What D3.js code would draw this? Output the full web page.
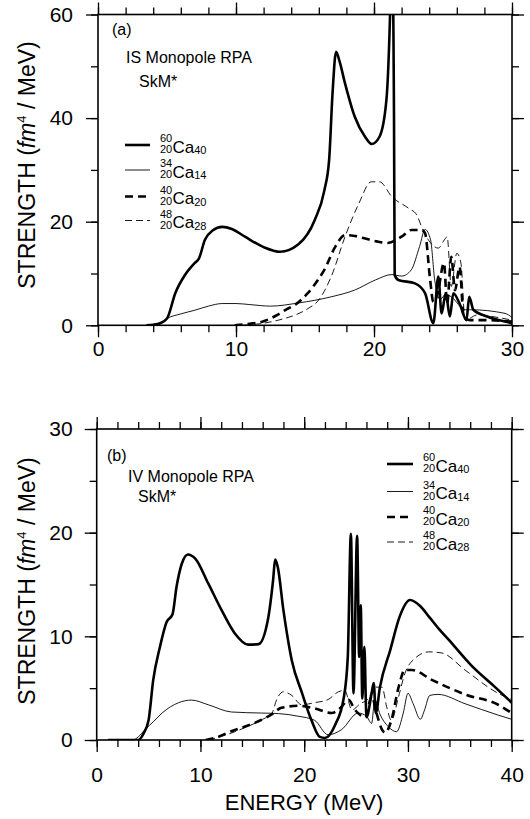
<!DOCTYPE html>
<html><head><meta charset="utf-8">
<script src="https://cdn.jsdelivr.net/npm/d3@7"></script>
<style>body{margin:0;background:#fff}svg{display:block}text{font-family:"Liberation Sans",Arial,sans-serif;fill:#000}</style>
</head><body><svg id="c" width="530" height="819"></svg>
<script>
// ---------- DATA ----------
// Panel (a): IS monopole RPA, [energy MeV, strength]
const isCa60 = [[3.5,0],[4.0,0.1],[4.5,0.4],[5.0,1.3],[5.6,6.2],[6.3,9.7],[7.0,12.0],[7.3,12.8],[7.75,16.5],[8.3,18.3],[9.0,19.0],[9.7,18.6],[10.65,17.1],[12.0,15.1],[13.2,14.2],[14.5,15.6],[15.7,20.3],[16.4,26],[16.75,32],[17.0,45],[17.25,52.8],[17.5,51],[17.9,46.7],[18.6,40.3],[19.35,36.4],[19.83,35.0],[20.4,36.4],[20.9,43.5],[21.16,59.6],[21.3,75],[21.45,40],[21.5,9.7],[21.76,8.75],[22.97,8.1],[23.7,6.2],[24.3,0.4],[24.66,9.4],[24.9,2.3],[25.2,6.2],[25.5,1.7],[25.75,6.2],[26.2,4.2],[26.7,1.0],[26.9,5.5],[27.2,3.0],[28.2,1.7],[29.85,0.5],[30,0.4]];
const isCa34 = [[4.0,0],[4.5,0.3],[5.0,1.3],[6.0,2.2],[7.0,2.9],[8.0,3.7],[9.0,4.2],[10.0,4.2],[11.0,4.0],[12.5,3.7],[14.5,4.3],[16.9,5.5],[18.6,6.8],[20.1,8.75],[21.3,9.8],[22.0,9.5],[22.7,10.7],[23.3,15.2],[23.7,18.5],[24.1,16.5],[24.4,8.7],[24.8,5.0],[25.2,6.0],[25.6,5.5],[26.6,3.0],[27.0,3.0],[29.5,2.3],[30,1.5]];
const isCa40 = [[9.9,0],[11.0,0.3],[11.9,0.7],[13.0,2.0],[13.6,3.0],[14.3,4.0],[15.2,6.2],[16.0,9.0],[16.4,10.7],[17.2,15.2],[17.9,17.4],[18.5,17.3],[19.3,16.8],[20.2,16.2],[21.0,15.9],[22.0,17.1],[22.7,18.4],[23.45,18.4],[23.7,17.8],[24.06,9],[24.3,4.5],[24.6,6],[25.07,12],[25.3,4.2],[25.6,13.2],[25.87,6.8],[26.2,11.3],[26.5,1.7],[26.96,1.0],[28,1.0],[30,0.7]];
const isCa48 = [[10.5,0],[12.0,0.4],[13.5,1.3],[14.3,2.0],[15.2,3.2],[16.0,4.9],[16.9,9.4],[17.9,17.1],[18.9,23.5],[19.8,27.7],[20.4,27.7],[21.3,24.8],[22.5,22.6],[23.1,21.3],[23.45,19.0],[23.8,17.1],[24.66,14.9],[25.1,16.5],[25.3,17.1],[25.6,7.5],[26.0,13.9],[26.3,12],[26.6,1.0],[27.5,2.0],[29,1.5],[30,1.0]];
// Panel (b): IV monopole RPA
const ivCa60 = [[1.1,0],[4.0,0],[4.5,0.6],[5.0,1.9],[5.45,5.8],[6.1,9.0],[6.75,11.4],[7.3,12.1],[7.7,14.8],[8.2,17.0],[8.8,17.9],[9.5,17.5],[10.75,15.1],[12.05,12.5],[13.3,10.3],[14.6,9.2],[15.6,9.25],[16.5,11.6],[17.0,15.4],[17.2,17.4],[17.45,16.7],[18.0,12.5],[18.8,7.7],[19.8,4.5],[20.7,1.9],[21.5,0.3],[22.0,0.2],[23.0,1.5],[23.8,4.0],[24.2,8],[24.5,19.9],[24.75,4.5],[25.1,19.7],[25.3,8],[25.45,13],[25.6,4],[25.8,9],[26.0,2.2],[26.5,4.5],[26.7,5.5],[26.9,2.6],[27.3,5.1],[28.3,8.7],[29.2,11.9],[30.2,13.5],[31.2,12.9],[32.1,11.8],[33.0,10.7],[33.9,9.7],[36.1,7.2],[38.4,5.1],[40,3.6]];
const ivCa34 = [[1.1,0],[3.5,0],[4.0,0.3],[4.65,1.0],[5.5,1.8],[6.3,2.6],[7.9,3.6],[9.15,3.85],[10.75,3.4],[13.0,2.7],[15.9,2.6],[17.5,2.55],[19.4,2.3],[21.0,1.9],[22.3,0.5],[23.6,1.0],[25.2,2.6],[26.0,2.3],[26.5,1.6],[26.8,3.9],[27.3,2.5],[28.1,1.3],[28.9,0.8],[29.55,2.6],[30.0,4.5],[30.5,3.5],[31.2,2.0],[31.6,2.9],[32.1,4.3],[32.9,4.4],[35.5,3.5],[38.7,2.4],[40,2.0]];
const ivCa40 = [[10.5,0],[11.4,0.2],[13.1,0.9],[14.3,1.3],[16.0,2.0],[16.9,2.5],[17.8,3.1],[19.4,3.3],[21.0,3.05],[22.65,2.6],[23.6,3.2],[24.25,3.9],[24.9,2.9],[25.9,2.2],[26.5,4.2],[27.0,2.5],[27.5,1.0],[27.8,0.7],[28.4,1.9],[29.1,5.1],[29.7,6.75],[30.4,6.75],[32.3,5.8],[35.5,4.4],[38.7,3.4],[40,2.6]];
const ivCa48 = [[10.75,0],[12.5,0.5],[14.3,1.2],[16.0,2.0],[16.9,2.6],[17.35,3.9],[18.0,4.65],[18.8,4.3],[19.75,3.4],[21.0,3.6],[22.3,3.9],[23.3,4.65],[23.9,4.8],[24.6,2.9],[25.4,3.5],[26.2,4.0],[26.8,5.1],[27.5,5.1],[27.95,3.2],[28.4,1.9],[29.1,4.2],[29.7,6.4],[30.7,7.9],[32.0,8.5],[33.25,8.4],[35.5,6.75],[38.7,4.5],[40,3.9]];
// Tick values
const xTicksA = [0,10,20,30];
const yTicksA = [0,20,40,60];
const xTicksB = [0,10,20,30,40];
const yTicksB = [0,10,20,30];
// Legend labels: [mass number, proton number, neutron number]
const isotopes = [["60","20","40"],["34","20","14"],["40","20","20"],["48","20","28"]];

// ---------- DRAW ----------
const svg = d3.select("#c");
const styles = [
  {w:2.6, dash:null},
  {w:0.9, dash:null},
  {w:2.6, dash:"8,5"},
  {w:0.9, dash:"7,4"}
];

function panel(cfg){
  const x = d3.scaleLinear().domain(cfg.xd).range(cfg.xr);
  const y = d3.scaleLinear().domain(cfg.yd).range(cfg.yr);
  const g = svg.append("g");
  const cid = "clip"+cfg.id;
  svg.append("clipPath").attr("id",cid).append("rect")
    .attr("x",cfg.xr[0]).attr("y",cfg.yr[1]).attr("width",cfg.xr[1]-cfg.xr[0]).attr("height",cfg.yr[0]-cfg.yr[1]);
  const line = d3.line().x(d=>x(d[0])).y(d=>y(d[1])).curve(d3.curveMonotoneX);
  cfg.series.forEach((s,i)=>{
    g.append("path").attr("d",line(s)).attr("fill","none").attr("stroke","#000")
      .attr("stroke-width",styles[i].w).attr("stroke-dasharray",styles[i].dash)
      .attr("stroke-linejoin","round").attr("clip-path",`url(#${cid})`);
  });
  const xMinor = d3.range(cfg.xd[0],cfg.xd[1]+0.001,cfg.xMinorStep);
  const yMinor = d3.range(cfg.yd[0],cfg.yd[1]+0.001,cfg.yMinorStep);
  const mk = (axis, tr, vals, size, lab, pad) => {
    const a = g.append("g").attr("transform",tr)
      .call(axis.tickValues(vals).tickSize(size).tickSizeOuter(0).tickPadding(pad||3).tickFormat(lab?d3.format("d"):""));
    a.select(".domain").remove();
    a.selectAll("line").attr("stroke","#000").attr("stroke-width",1.3);
    a.selectAll("text").attr("font-size",cfg.tickFont).attr("font-family","Liberation Sans, Arial, sans-serif").attr("fill","#000");
    return a;
  };
  const yb = cfg.yr[0], yt = cfg.yr[1], xl = cfg.xr[0], xrr = cfg.xr[1];
  mk(d3.axisBottom(x), `translate(0,${yb})`, xMinor, 7, false);
  mk(d3.axisBottom(x), `translate(0,${yb})`, cfg.xTicks, 12, true, cfg.xPad);
  mk(d3.axisTop(x), `translate(0,${yt})`, xMinor, 7, false);
  mk(d3.axisTop(x), `translate(0,${yt})`, cfg.xTicks, 12, false);
  mk(d3.axisLeft(y), `translate(${xl},0)`, yMinor, 7, false);
  mk(d3.axisLeft(y), `translate(${xl},0)`, cfg.yTicks, 12, true, cfg.yPad);
  mk(d3.axisRight(y), `translate(${xrr},0)`, yMinor, 7, false);
  mk(d3.axisRight(y), `translate(${xrr},0)`, cfg.yTicks, 12, false);
  g.append("rect").attr("x",xl).attr("y",yt).attr("width",xrr-xl).attr("height",yb-yt)
    .attr("fill","none").attr("stroke","#000").attr("stroke-width",1.6);
  cfg.notes.forEach(n=>g.append("text").attr("x",n[0]).attr("y",n[1]).attr("font-size",16).text(n[2]));
  cfg.legY.forEach((ly,i)=>{
    g.append("line").attr("x1",cfg.legX[0]).attr("x2",cfg.legX[1]).attr("y1",ly).attr("y2",ly)
      .attr("stroke","#000").attr("stroke-width",styles[i].w).attr("stroke-dasharray",styles[i].dash);
    const iso = isotopes[i];
    const tx = cfg.legX[1]+10;
    g.append("text").attr("x",tx).attr("y",ly-3).attr("font-size",11).text(iso[0]);
    g.append("text").attr("x",tx).attr("y",ly+8).attr("font-size",11).text(iso[1]);
    const t = g.append("text").attr("x",tx+12.5).attr("y",ly+7.5).attr("font-size",17);
    t.append("tspan").text("Ca");
    t.append("tspan").attr("font-size",11).attr("dy",1.5).text(iso[2]);
  });
  const yt2 = g.append("text").attr("transform",`translate(35,${cfg.yTitleY}) rotate(-90)`)
    .attr("text-anchor","middle").attr("font-size",23);
  yt2.append("tspan").text("STRENGTH (");
  yt2.append("tspan").attr("font-style","italic").text("fm");
  yt2.append("tspan").attr("font-size",13).attr("dy",-9).text("4");
  yt2.append("tspan").attr("dy",9).text(" / MeV)");
}

panel({id:"a", xd:[0,30], xr:[98,512], yd:[0,60], yr:[325.3,14.5],
  series:[isCa60,isCa34,isCa40,isCa48], xTicks:xTicksA, yTicks:yTicksA, xMinorStep:2, yMinorStep:10,
  tickFont:21, xPad:4, yPad:13, yTitleY:165,
  notes:[[112,35,"(a)"],[126,63,"IS Monopole RPA"],[139,87,"SkM*"]],
  legX:[125,150], legY:[145,170,196.5,220.5]});

panel({id:"b", xd:[0,40], xr:[96.7,511.7], yd:[0,30], yr:[740,429],
  series:[ivCa60,ivCa34,ivCa40,ivCa48], xTicks:xTicksB, yTicks:yTicksB, xMinorStep:2, yMinorStep:5,
  tickFont:21, xPad:15, yPad:12, yTitleY:581,
  notes:[[107,461,"(b)"],[128,482,"IV Monopole RPA"],[138,502,"SkM*"]],
  legX:[387,413], legY:[464,491.5,517,542]});

svg.append("text").attr("x",304).attr("y",810).attr("text-anchor","middle").attr("font-size",22).text("ENERGY (MeV)");
</script></body></html>
